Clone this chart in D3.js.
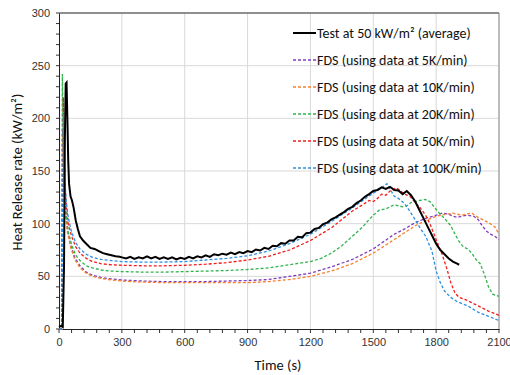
<!DOCTYPE html>
<html>
<head>
<meta charset="utf-8">
<script src="https://cdn.jsdelivr.net/npm/d3@7"></script>
<style>
body { margin: 0; background: #fff; }
svg { font-family: Carlito, "Open Sans", "Liberation Sans", sans-serif; }
.grid line { stroke: #d9d9d9; stroke-width: 1; }
.tick text { fill: #333; font-size: 11px; }
</style>
</head>
<body>
<svg width="510" height="375"></svg>
<script>
// [time (s), HRR (kW/m2)]
var test50 = [[0,2],[10,3],[18,2],[24,60],[28,180],[32,233],[36,234],[40,200],[44,160],[48,138],[55,126],[62,122],[70,115],[80,103],[90,95],[100,88],[115,84],[130,81],[150,77],[170,76],[190,74],[210,72],[230,71],[250,70],[270,69],[290,68.5],
[300,68],[320,67],[340,68.5],[360,66.5],[380,68],[400,67],[420,69],[440,67],[460,68.5],[480,66.5],[500,68],[520,66.5],[540,68],[560,66],[580,67.5],[600,66.5],[620,68.5],[640,67],[660,69],[680,68],[700,70],[720,68.5],[740,71],[760,70],[780,71.5],[800,70.5],[820,72.5],[840,71],[860,73],[880,72],[900,74],[920,73],[940,75.5],[960,74.5],[980,77],[1000,76],[1020,79],[1040,78.5],[1060,81.5],[1080,81],[1100,84],[1120,84],[1140,87.5],[1160,87],[1180,91],[1200,91.5],[1220,95],[1240,96],[1260,99.5],[1280,101],[1300,104],[1320,106],[1340,108.5],[1360,111],[1380,114],[1400,116],[1420,119.5],[1440,122],[1460,125.5],[1480,128],[1500,131],[1520,132],[1540,134.5],[1560,133],[1580,135],[1600,132],[1620,131.5],[1640,128],[1660,131],[1680,127],[1700,121],[1720,113],[1740,105],[1760,97],[1780,89],[1800,81],[1820,75],[1840,71],[1860,67],[1880,64],[1900,62],[1910,61]];

var fds5 = [[0,0],[13,0],[17,190],[20,170],[24,140],[30,115],[40,95],[55,80],[75,68],[100,60],[130,54],[160,51],[200,49],[250,47.5],[300,46.5],[400,45.5],[500,45],[600,45],[700,45],[800,45.5],[900,46],[1000,47],[1100,50],[1200,53],[1300,59],[1400,66],[1500,76],[1600,90],[1650,95],[1700,101],[1750,105],[1800,108],[1830,110],[1860,109],[1880,107],[1900,106],[1920,107],[1950,108],[1980,107],[2000,104],[2020,98],[2040,93],[2060,90],[2080,88],[2100,85]];

var fds10 = [[0,0],[13,0],[17,185],[20,165],[24,135],[30,110],[40,92],[55,78],[75,66],[100,58],[130,53],[160,50],[200,48],[250,46.5],[300,45.5],[400,44.5],[500,44],[600,44],[700,44],[800,44],[900,44],[1000,45],[1100,47],[1200,50],[1300,55],[1400,62],[1500,72],[1600,85],[1700,98],[1750,103],[1800,107],[1850,109],[1880,110],[1900,109],[1920,108],[1940,109],[1970,110],[2000,106],[2020,104],[2050,101],[2080,97],[2100,90]];

var fds20 = [[0,0],[12,0],[16,242],[19,200],[23,160],[28,130],[35,108],[45,92],[60,80],[80,70],[100,65],[130,60],[160,58],[200,56],[250,55],[300,54.5],[400,54],[500,54],[600,54.5],[700,55],[800,55.5],[900,56.5],[1000,58],[1100,61],[1200,64],[1250,67],[1300,72],[1350,79],[1400,88],[1450,97],[1480,104],[1500,108],[1530,113],[1560,114],[1580,116],[1600,118],[1620,117],[1640,116],[1660,117],[1680,120],[1700,121],[1720,122],[1748,123],[1770,121],[1790,116],[1810,111],[1840,105],[1870,98],[1890,90],[1910,83],[1930,78],[1950,76],[1970,72],[1990,66],[2010,62],[2030,52],[2050,40],[2070,33],[2100,31]];

var fds50 = [[0,0],[14,0],[18,130],[21,220],[24,180],[28,140],[35,117],[45,100],[60,88],[80,78],[100,72],[130,67],[160,64],[200,62],[250,61],[300,60.5],[400,60],[500,60],[600,60.5],[700,61.5],[800,63],[900,65.5],[1000,69],[1100,75],[1200,84],[1300,96],[1350,104],[1400,112],[1450,118],[1480,122],[1500,121],[1520,124],[1540,128],[1560,127],[1580,131],[1610,134],[1630,131],[1650,128],[1675,126],[1700,120],[1720,116],[1750,108],[1770,100],[1790,90],[1810,80],[1830,70],[1850,58],[1870,44],[1890,34],[1910,30],[1950,27],[2000,22],[2050,17],[2100,13]];

var fds100 = [[0,0],[14,0],[18,120],[21,205],[24,175],[28,140],[35,120],[45,105],[60,92],[80,82],[100,76],[130,71],[160,68],[200,66],[250,65],[300,64],[400,63.5],[500,63.5],[600,64],[700,65.5],[800,67],[900,69.5],[1000,74],[1100,81],[1200,90],[1300,102],[1400,115],[1450,122],[1500,129],[1540,134],[1565,138],[1580,133],[1600,126],[1620,124],[1650,119],[1680,110],[1700,104],[1720,97],[1750,88],[1780,74],[1800,55],[1820,44],[1840,36],[1870,30],[1900,26],[1950,22],[2000,16],[2050,12],[2100,8]];

var seriesNames = ["Test at 50 kW/m\u00B2 (average)", "FDS (using data at 5K/min)", "FDS (using data at 10K/min)", "FDS (using data at 20K/min)", "FDS (using data at 50K/min)", "FDS (using data at 100K/min)"];
var seriesData = [test50, fds5, fds10, fds20, fds50, fds100];
var seriesColors = ["#000000", "#7f3fbf", "#f7812d", "#31b34e", "#f01e1e", "#2f8fe0"];

var xTicks = [0, 300, 600, 900, 1200, 1500, 1800, 2100];
var yTicks = [0, 50, 100, 150, 200, 250, 300];

var svg = d3.select("svg"),
  margin = {top: 13, right: 11, bottom: 46, left: 59},
  width = +svg.attr("width") - margin.left - margin.right,
  height = +svg.attr("height") - margin.top - margin.bottom;

var g = svg.append("g").attr("transform", "translate(" + margin.left + "," + margin.top + ")");

var x = d3.scaleLinear().domain([0, 2100]).range([0, width]);
var y = d3.scaleLinear().domain([0, 300]).range([height, 0]);

// gridlines
g.append("g").attr("class", "grid")
  .selectAll("line").data(xTicks.slice(1)).enter().append("line")
  .attr("x1", d => x(d)).attr("x2", d => x(d)).attr("y1", 0).attr("y2", height);
g.append("g").attr("class", "grid")
  .selectAll("line").data(yTicks.slice(1)).enter().append("line")
  .attr("x1", 0).attr("x2", width).attr("y1", d => y(d)).attr("y2", d => y(d));

// frame: top dark, right grey
g.append("line").attr("x1", 0).attr("x2", width).attr("y1", 0).attr("y2", 0)
  .attr("stroke", "#333");
g.append("line").attr("x1", width).attr("x2", width).attr("y1", 0).attr("y2", height)
  .attr("stroke", "#8c8c8c");

// minor ticks (outside)
g.append("g").selectAll("line").data(d3.range(0, 2101, 60)).enter().append("line")
  .attr("x1", d => x(d)).attr("x2", d => x(d)).attr("y1", height).attr("y2", height + 4)
  .attr("stroke", "#333");
g.append("g").selectAll("line").data(d3.range(0, 301, 10)).enter().append("line")
  .attr("y1", d => y(d)).attr("y2", d => y(d)).attr("x1", -3).attr("x2", 0)
  .attr("stroke", "#333");

// axes
var xAxis = g.append("g").attr("transform", "translate(0," + height + ")")
  .call(d3.axisBottom(x).tickValues(xTicks).tickFormat(d3.format("d")).tickSize(0).tickPadding(9));
xAxis.select(".domain").attr("stroke", "#222");

var yAxis = g.append("g")
  .call(d3.axisLeft(y).tickValues(yTicks).tickFormat(d3.format("d")).tickSize(0).tickPadding(9));
yAxis.select(".domain").attr("stroke", "#222");

// lines
var line = d3.line().x(d => x(d[0])).y(d => y(d[1]));

seriesData.forEach(function(s, i) {
  if (i == 0) return;
  g.append("path").datum(s)
    .attr("fill", "none")
    .attr("stroke", seriesColors[i])
    .attr("stroke-width", 1.3)
    .attr("stroke-dasharray", "3,2")
    .attr("d", line);
});
g.append("path").datum(test50)
  .attr("fill", "none").attr("stroke", "#000").attr("stroke-width", 2)
  .attr("d", line);

// legend
var legend = svg.append("g").attr("transform", "translate(293,33)");
seriesNames.forEach(function(name, i) {
  var row = legend.append("g").attr("transform", "translate(0," + (i * 27) + ")");
  row.append("line").attr("x1", 0).attr("x2", 23).attr("y1", 0).attr("y2", 0)
    .attr("stroke", seriesColors[i])
    .attr("stroke-width", i == 0 ? 2 : 1.3)
    .attr("stroke-dasharray", i == 0 ? null : "3,2");
  row.append("text").attr("x", 24).attr("y", 5)
    .attr("font-size", "14px").attr("fill", "#111").text(name);
});

// axis titles
svg.append("text").attr("x", 278).attr("y", 370).attr("text-anchor", "middle")
  .attr("font-size", "14.5px").attr("fill", "#111").text("Time (s)");
svg.append("text").attr("transform", "translate(22,172) rotate(-90)")
  .attr("text-anchor", "middle").attr("font-size", "14.5px").attr("fill", "#111")
  .text("Heat Release rate (kW/m\u00B2)");
</script>
</body>
</html>
